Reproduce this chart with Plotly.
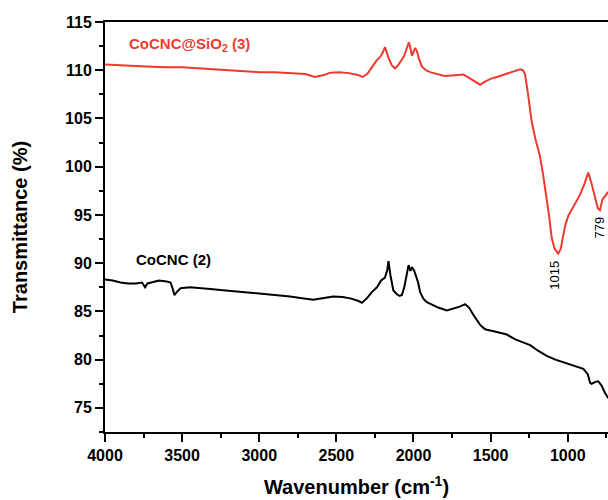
import plotly.graph_objects as go

# CoCNC@SiO2 (3) spectrum (wavenumber cm-1, transmittance %)
red_x = [4000, 3900, 3800, 3700, 3600, 3500, 3400, 3300, 3200, 3100, 3000, 2900, 2800, 2700,
         2640, 2580, 2540, 2480, 2420, 2360, 2330, 2300, 2270, 2240, 2215, 2200, 2185, 2175,
         2160, 2140, 2120, 2100, 2080, 2060, 2045, 2030, 2020, 2010, 2000, 1990, 1978, 1965,
         1946, 1920, 1892, 1850, 1800, 1750, 1700, 1676, 1640, 1600, 1568, 1540, 1500, 1460,
         1400, 1350, 1309, 1290, 1277, 1260, 1233, 1210, 1180, 1160, 1136, 1120, 1104, 1085,
         1062, 1045, 1030, 1015, 997, 970, 945, 920, 890, 867, 845, 820, 805, 791, 775, 755, 739]
red_y = [110.6, 110.5, 110.4, 110.35, 110.3, 110.3, 110.2, 110.1, 110.0, 109.9, 109.8, 109.8, 109.7, 109.6,
         109.3, 109.5, 109.75, 109.8, 109.7, 109.5, 109.3, 109.6, 110.3, 111.0, 111.4, 111.8, 112.4, 111.9,
         111.2, 110.5, 110.2, 110.5, 111.0, 111.5, 112.2, 112.9, 112.3, 111.5, 111.9, 112.3, 112.0, 111.2,
         110.4, 110.0, 109.8, 109.6, 109.4, 109.45, 109.5, 109.55, 109.2, 108.8, 108.5, 108.8, 109.1, 109.3,
         109.6, 109.9, 110.1, 110.0, 109.6, 107.8, 104.6, 102.9, 101.1, 99.2, 96.7, 94.8, 92.6, 91.5,
         91.0, 91.5, 92.8, 94.0, 94.9, 95.7, 96.5, 97.1, 98.3, 99.4, 98.2, 96.5, 95.7, 95.5, 96.6, 97.0, 97.4]

# CoCNC (2) spectrum
blk_x = [4000, 3950, 3900, 3850, 3800, 3760, 3740, 3725, 3700, 3650, 3600, 3575, 3560, 3550, 3535,
         3510, 3450, 3400, 3300, 3200, 3100, 3000, 2900, 2800, 2734, 2650, 2580, 2520, 2460, 2410,
         2360, 2334, 2300, 2270, 2237, 2210, 2185, 2170, 2162, 2150, 2131, 2110, 2090, 2075, 2060,
         2045, 2032, 2020, 2010, 1995, 1985, 1970, 1957, 1935, 1913, 1880, 1840, 1784, 1740, 1700,
         1665, 1640, 1610, 1580, 1568, 1540, 1525, 1480, 1440, 1395, 1340, 1290, 1244, 1190, 1136,
         1080, 1006, 950, 899, 870, 855, 845, 820, 802, 780, 760, 737]
blk_y = [88.3, 88.2, 88.0, 87.9, 87.9, 88.0, 87.5, 87.9, 88.0, 88.2, 88.1, 88.0, 87.3, 86.7, 87.0,
         87.4, 87.5, 87.45, 87.3, 87.15, 87.0, 86.9, 86.7, 86.55, 86.4, 86.2, 86.4, 86.55, 86.5, 86.35,
         86.1, 85.9, 86.4, 87.0, 87.5, 88.2, 88.5, 89.3, 90.2, 88.8, 87.2, 86.8, 86.6, 86.7, 87.5,
         88.6, 89.8, 89.2, 89.6, 89.2, 88.7, 88.0, 87.0, 86.3, 85.95, 85.7, 85.4, 85.1, 85.3, 85.5,
         85.75, 85.4, 84.6, 83.8, 83.6, 83.2, 83.1, 82.95, 82.8, 82.6, 82.1, 81.8, 81.5, 80.9, 80.4,
         80.0, 79.6, 79.3, 79.05, 78.5, 77.6, 77.5, 77.7, 77.75, 77.3, 76.6, 76.0]

peak_labels = ["1015", "779"]
peak_x = [1082, 797]
peak_y = [88.7, 93.7]

FONT = "Liberation Sans, Arial, sans-serif"

fig = go.Figure()
fig.add_trace(go.Scatter(x=red_x, y=red_y, mode="lines", line=dict(color="#ee3a2e", width=2),
                         name="CoCNC@SiO2 (3)", showlegend=False))
fig.add_trace(go.Scatter(x=blk_x, y=blk_y, mode="lines", line=dict(color="black", width=2),
                         name="CoCNC (2)", showlegend=False))

fig.add_annotation(x=3860, y=112.7, xanchor="left", yanchor="middle", showarrow=False,
                   text="CoCNC@SiO<sub>2</sub> (3)",
                   font=dict(family=FONT, size=15, color="#ee3a2e", weight="bold"))
fig.add_annotation(x=3815, y=90.4, xanchor="left", yanchor="middle", showarrow=False,
                   text="CoCNC (2)", font=dict(family=FONT, size=15, color="black", weight="bold"))
for t, px, py in zip(peak_labels, peak_x, peak_y):
    fig.add_annotation(x=px, y=py, text=t, textangle=-90, showarrow=False,
                       font=dict(family=FONT, size=13, color="black"))

axis_common = dict(showgrid=False, zeroline=False, showline=True, linecolor="black", linewidth=2,
                   ticks="outside", ticklen=8, tickwidth=2, tickcolor="black",
                   tickfont=dict(family=FONT, size=16, color="black", weight="bold"))

fig.update_xaxes(range=[4000, 739], tickvals=[4000, 3500, 3000, 2500, 2000, 1500, 1000],
                 minor=dict(dtick=250, tick0=0, ticks="outside", ticklen=4, tickwidth=2, tickcolor="black"),
                 mirror=True,
                 title=dict(text="Wavenumber (cm<sup>-1</sup>)", standoff=17,
                            font=dict(family=FONT, size=20, color="black", weight="bold")),
                 **axis_common)
fig.update_yaxes(range=[72.5, 115], tickvals=[75, 80, 85, 90, 95, 100, 105, 110, 115],
                 minor=dict(dtick=2.5, tick0=0, ticks="outside", ticklen=4, tickwidth=2, tickcolor="black"),
                 title=dict(text="Transmittance (%)", standoff=32,
                            font=dict(family=FONT, size=20, color="black", weight="bold")),
                 **axis_common)

fig.update_layout(width=608, height=500, margin=dict(l=105, r=0, t=22, b=68),
                  plot_bgcolor="white", paper_bgcolor="white", font=dict(family=FONT))
fig.write_html("out.html")
